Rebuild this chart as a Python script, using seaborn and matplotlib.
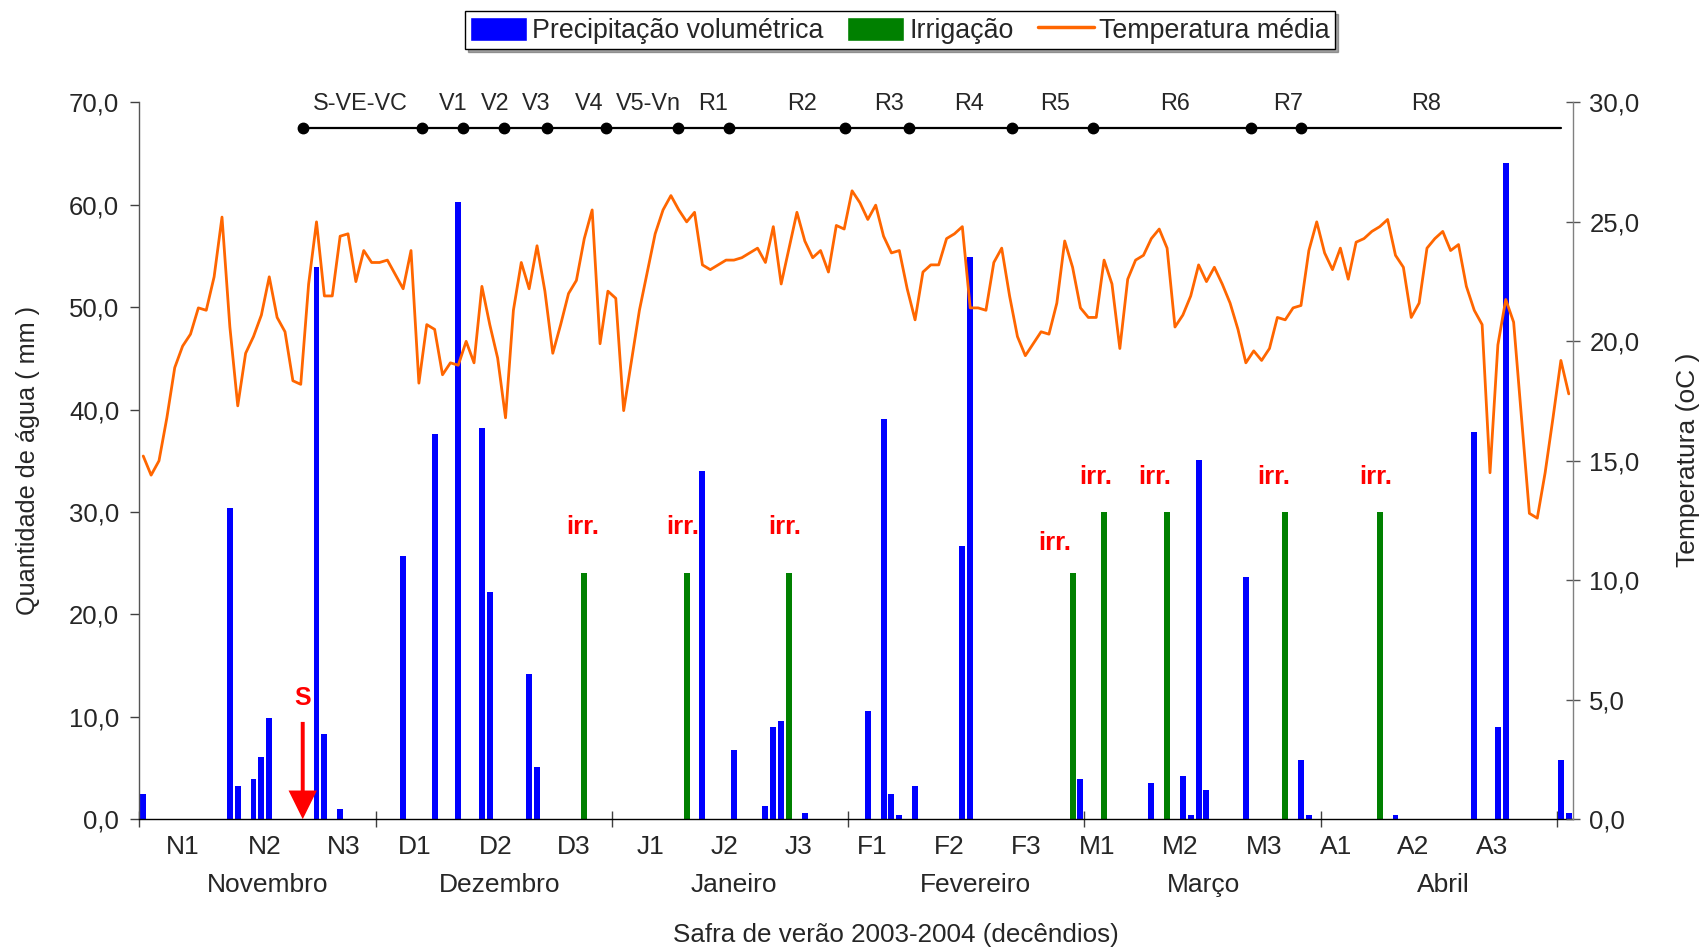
import numpy as np
import pandas as pd
import matplotlib
matplotlib.use('Agg')
import matplotlib.pyplot as plt
from matplotlib.patches import Patch
from matplotlib.lines import Line2D
import seaborn as sns

# dias da safra (01/nov a 30/abr)
n_dias = 182

# precipitação diária (dia, mm)
chuva_dia = [0, 11, 12, 14, 15, 16, 22, 23, 25, 33, 37, 40, 43, 44, 49, 50,
             69, 71, 75, 79, 80, 81, 84, 92, 94, 95, 96, 98, 104, 105, 119,
             128, 132, 133, 134, 135, 140, 147, 148, 159, 169, 172, 173, 180, 181]
chuva_mm = [2.5, 30.4, 3.2, 3.9, 6.1, 9.9, 53.9, 8.3, 1.0, 25.7, 37.6, 60.3, 38.2, 22.2, 14.2, 5.1,
            0.9, 34.0, 6.8, 1.3, 9.0, 9.6, 0.6, 10.6, 39.1, 2.5, 0.4, 3.2, 26.7, 54.9, 3.9,
            3.5, 4.2, 0.4, 35.1, 2.9, 23.7, 5.8, 0.4, 0.4, 37.8, 9.0, 64.1, 5.8, 0.6]

# irrigação (dia, mm)
irrig_dia = [56, 69, 82, 118, 122, 130, 145, 157]
irrig_mm = [24.0, 24.0, 24.0, 24.0, 30.0, 30.0, 30.0, 30.0]

# temperatura média diária (oC)
temp_c = [15.2, 14.4, 15.0, 16.8, 18.9, 19.8, 20.3, 21.4, 21.3, 22.7,
          25.2, 20.6, 17.3, 19.5, 20.2, 21.1, 22.7, 21.0, 20.4, 18.35,
          18.2, 22.4, 25.0, 21.9, 21.9, 24.4, 24.5, 22.5, 23.8, 23.3,
          23.3, 23.4, 22.8, 22.2, 23.8, 18.25, 20.7, 20.5, 18.6, 19.1,
          19.0, 20.0, 19.1, 22.3, 20.7, 19.3, 16.8, 21.3, 23.3, 22.2,
          24.0, 22.1, 19.5, 20.7, 22.0, 22.55, 24.3, 25.5, 19.9, 22.1,
          21.8, 17.1, 19.2, 21.3, 22.9, 24.5, 25.5, 26.1, 25.5, 25.0,
          25.4, 23.2, 23.0, 23.2, 23.4, 23.4, 23.5, 23.7, 23.9, 23.3,
          24.8, 22.4, 23.9, 25.4, 24.2, 23.5, 23.8, 22.9, 24.85, 24.7,
          26.3, 25.8, 25.1, 25.7, 24.4, 23.7, 23.8, 22.2, 20.9, 22.9,
          23.2, 23.2, 24.3, 24.5, 24.8, 21.4, 21.4, 21.3, 23.3, 23.9,
          21.9, 20.2, 19.4, 19.9, 20.4, 20.3, 21.6, 24.2, 23.1, 21.4,
          21.0, 21.0, 23.4, 22.4, 19.7, 22.6, 23.4, 23.6, 24.3, 24.7,
          23.9, 20.6, 21.1, 21.9, 23.2, 22.5, 23.1, 22.4, 21.6, 20.5,
          19.1, 19.6, 19.2, 19.7, 21.0, 20.9, 21.4, 21.5, 23.8, 25.0,
          23.7, 23.0, 23.9, 22.6, 24.15, 24.3, 24.6, 24.8, 25.1, 23.6,
          23.1, 21.0, 21.6, 23.9, 24.3, 24.6, 23.8, 24.05, 22.3, 21.3,
          20.7, 14.5, 19.85, 21.75, 20.8, 16.8, 12.8, 12.6, 14.5, 16.8,
          19.2, 17.8]

# estádios fenológicos
fase_dia = [20.3, 35.4, 40.6, 45.8, 51.3, 58.8, 67.9, 74.4, 89.1, 97.2,
            110.3, 120.6, 140.6, 147.0]
fase_fim = 180.0
fase_nome = ['S-VE-VC', 'V1', 'V2', 'V3', 'V4', 'V5-Vn', 'R1', 'R2', 'R3',
             'R4', 'R5', 'R6', 'R7', 'R8']
fase_txt_x = [27.6, 39.3, 44.7, 49.9, 56.6, 64.2, 72.4, 83.6, 94.7, 104.9,
              115.8, 131.0, 145.4, 162.9]

decendios = ['N1', 'N2', 'N3', 'D1', 'D2', 'D3', 'J1', 'J2', 'J3',
             'F1', 'F2', 'F3', 'M1', 'M2', 'M3', 'A1', 'A2', 'A3']
dec_x = [5.0, 15.4, 25.4, 34.5, 44.7, 54.7, 64.4, 73.8, 83.2, 92.6,
         102.4, 112.1, 121.1, 131.7, 142.3, 151.5, 161.3, 171.3]
meses = ['Novembro', 'Dezembro', 'Janeiro', 'Fevereiro', 'Março', 'Abril']
mes_x = [15.8, 45.3, 75.0, 105.7, 134.6, 165.1]

# posições dos rótulos "irr."
irr_txt = [(55.8, 28.5), (68.5, 28.5), (81.4, 28.5), (115.7, 27.0),
           (120.9, 33.4), (128.4, 33.4), (143.6, 33.4), (156.5, 33.4)]

sns.set_theme(style='white')
plt.rcParams['font.family'] = ['Liberation Sans', 'DejaVu Sans']

dias = np.arange(n_dias)
chuva = np.zeros(n_dias)
chuva[chuva_dia] = chuva_mm
irrig = np.zeros(n_dias)
irrig[irrig_dia] = irrig_mm
df = pd.DataFrame({'dia': dias, 'chuva': chuva, 'irrig': irrig, 'temp': temp_c})

W, H = 1708, 949
fig = plt.figure(figsize=(W / 100, H / 100), dpi=100)
ax = fig.add_axes([139.3 / W, 1 - 819.2 / H, 1433.4 / W, 716.8 / H])

sns.barplot(data=df, x='dia', y='chuva', native_scale=True, color='#0000FF',
            saturation=1, width=0.76, errorbar=None, linewidth=0, ax=ax)
sns.barplot(data=df, x='dia', y='irrig', native_scale=True, color='#008000',
            saturation=1, width=0.76, errorbar=None, linewidth=0, ax=ax)

# linha de estádios
ax.plot([fase_dia[0], fase_fim], [67.5, 67.5], color='black', lw=1.6)
ax.plot(fase_dia, [67.5] * len(fase_dia), 'o', color='black', ms=7.5)
for nome, x in zip(fase_nome, fase_txt_x):
    ax.text(x, 69.9, nome, ha='center', va='center', fontsize=16.8)

for x, y in irr_txt:
    ax.text(x, y, 'irr.', color='#FF0000', fontsize=18.5, fontweight='bold',
            ha='center', va='center')

# semeadura
ax.arrow(20.25, 9.5, 0, -9.5, width=0.5, head_width=3.6, head_length=2.8,
         length_includes_head=True, color='#FF0000', lw=0, zorder=5)
ax.text(20.25, 11.8, 'S', color='#FF0000', fontsize=18, fontweight='bold',
        ha='center', va='center')

ax.set_xlim(-0.5, n_dias - 0.5)
ax.set_ylim(0, 70)
ax.set_xticks(np.arange(-0.5, n_dias, 30))
ax.set_xticklabels([])
ax.set_yticks(range(0, 71, 10))
ax.set_yticklabels([f'{v:.1f}'.replace('.', ',') for v in range(0, 71, 10)])
ax.tick_params(axis='x', direction='inout', length=12, width=1, color='#404040', bottom=True)
ax.tick_params(axis='y', direction='out', length=6.5, width=1, pad=8,
               labelsize=18.5, color='#404040', left=True)
ax.set_xlabel('')
ax.set_ylabel('')
ax.spines['top'].set_visible(False)
ax.spines['right'].set_visible(False)
ax.spines['left'].set_color('#555555')
ax.spines['bottom'].set_color('black')
ax.spines['left'].set_linewidth(1)
ax.spines['bottom'].set_linewidth(1)

ax2 = ax.twinx()
sns.lineplot(data=df, x='dia', y='temp', color='#FF6600', lw=2.0, ax=ax2)
ax2.set_ylim(0, 30)
ax2.set_yticks(range(0, 31, 5))
ax2.set_yticklabels([f'{v:.1f}'.replace('.', ',') for v in range(0, 31, 5)])
ax2.tick_params(axis='y', direction='inout', length=10, width=1, pad=7,
                labelsize=18.5, color='#555555', right=True)
ax2.set_ylabel('')
ax2.set_xlabel('')
for s in ['top', 'left', 'bottom']:
    ax2.spines[s].set_visible(False)
ax2.spines['right'].set_color('#808080')
ax2.spines['right'].set_linewidth(1)
ax.set_xlim(-0.5, n_dias - 0.5)

tr = ax.get_xaxis_transform()
for nome, x in zip(decendios, dec_x):
    ax.text(x, -0.0384, nome, transform=tr, ha='center', va='center', fontsize=19)
for nome, x in zip(meses, mes_x):
    ax.text(x, -0.0918, nome, transform=tr, ha='center', va='center', fontsize=19)

fig.text(895.4 / W, 1 - 934.8 / H, 'Safra de verão 2003-2004 (decêndios)',
         ha='center', va='center', fontsize=18.7)
fig.text(28 / W, 1 - 460 / H, 'Quantidade de água ( mm )', rotation=90,
         ha='center', va='center', fontsize=18.2)
fig.text(1688 / W, 1 - 460 / H, 'Temperatura (oC )', rotation=90,
         ha='center', va='center', fontsize=19)

handles = [Patch(facecolor='#0000FF'), Patch(facecolor='#008000'),
           Line2D([0], [0], color='#FF6600', lw=2.5)]
labels = ['Precipitação volumétrica', 'Irrigação', 'Temperatura média']
leg = fig.legend(handles, labels, loc='center', bbox_to_anchor=(0.527, 0.968),
                 ncol=3, frameon=True, fancybox=False, edgecolor='black',
                 fontsize=19.3, handlelength=2.1, handleheight=1.0,
                 handletextpad=0.2, columnspacing=0.9, borderpad=0.2,
                 borderaxespad=0, shadow=True)
leg.get_frame().set_linewidth(1)

fig.savefig('out.png', dpi=100, facecolor='white')
